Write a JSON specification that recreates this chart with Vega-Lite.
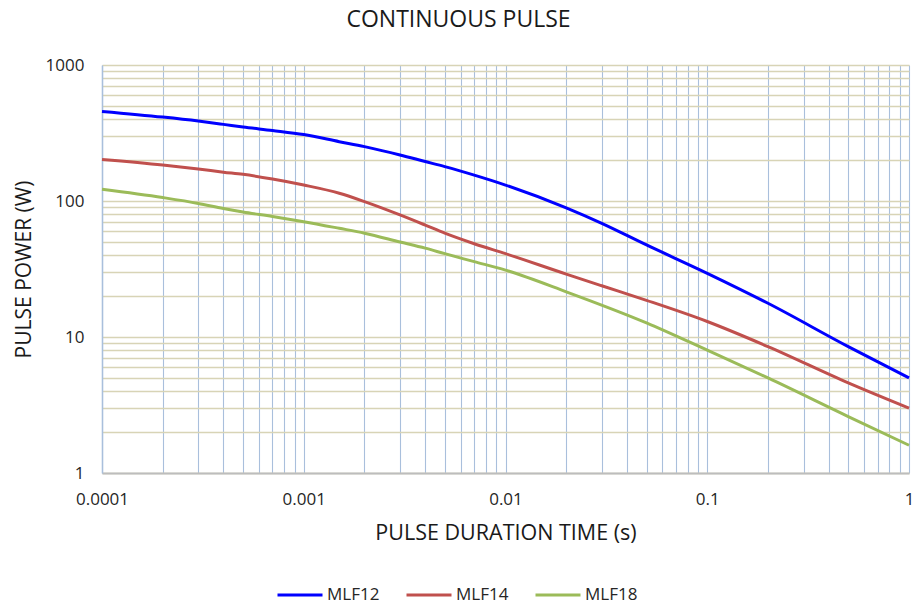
{
  "$schema": "https://vega.github.io/schema/vega-lite/v6.json",
  "width": 807,
  "height": 408,
  "autosize": {"type": "none"},
  "padding": {"left": 102, "top": 65, "right": 8, "bottom": 132},
  "background": "white",
  "title": {"text": "CONTINUOUS PULSE", "font": "Open Sans", "fontSize": 23, "fontWeight": "normal", "color": "#1a1a1a", "anchor": "middle", "dx": -47, "offset": 24},
  "config": {"view": {"stroke": null}},
  "data": {"values": [
    {"t": 0.0001, "p": 456, "series": "MLF12"},
    {"t": 0.0002, "p": 414, "series": "MLF12"},
    {"t": 0.0003, "p": 387, "series": "MLF12"},
    {"t": 0.0004, "p": 366, "series": "MLF12"},
    {"t": 0.0005, "p": 350, "series": "MLF12"},
    {"t": 0.0007, "p": 330, "series": "MLF12"},
    {"t": 0.001, "p": 308, "series": "MLF12"},
    {"t": 0.0015, "p": 273, "series": "MLF12"},
    {"t": 0.002, "p": 251, "series": "MLF12"},
    {"t": 0.003, "p": 218, "series": "MLF12"},
    {"t": 0.004, "p": 195, "series": "MLF12"},
    {"t": 0.005, "p": 179, "series": "MLF12"},
    {"t": 0.007, "p": 155, "series": "MLF12"},
    {"t": 0.01, "p": 131, "series": "MLF12"},
    {"t": 0.02, "p": 89, "series": "MLF12"},
    {"t": 0.03, "p": 68.5, "series": "MLF12"},
    {"t": 0.05, "p": 47.5, "series": "MLF12"},
    {"t": 0.1, "p": 29.4, "series": "MLF12"},
    {"t": 0.2, "p": 17.7, "series": "MLF12"},
    {"t": 0.5, "p": 8.5, "series": "MLF12"},
    {"t": 1, "p": 5.0, "series": "MLF12"},
    {"t": 0.0001, "p": 202, "series": "MLF14"},
    {"t": 0.0002, "p": 184, "series": "MLF14"},
    {"t": 0.0003, "p": 172, "series": "MLF14"},
    {"t": 0.0004, "p": 163, "series": "MLF14"},
    {"t": 0.0005, "p": 157, "series": "MLF14"},
    {"t": 0.0007, "p": 145, "series": "MLF14"},
    {"t": 0.001, "p": 131, "series": "MLF14"},
    {"t": 0.0015, "p": 114, "series": "MLF14"},
    {"t": 0.002, "p": 99, "series": "MLF14"},
    {"t": 0.003, "p": 79, "series": "MLF14"},
    {"t": 0.004, "p": 66.5, "series": "MLF14"},
    {"t": 0.005, "p": 58, "series": "MLF14"},
    {"t": 0.007, "p": 48.5, "series": "MLF14"},
    {"t": 0.01, "p": 41, "series": "MLF14"},
    {"t": 0.02, "p": 29, "series": "MLF14"},
    {"t": 0.03, "p": 23.8, "series": "MLF14"},
    {"t": 0.05, "p": 18.6, "series": "MLF14"},
    {"t": 0.1, "p": 13, "series": "MLF14"},
    {"t": 0.2, "p": 8.5, "series": "MLF14"},
    {"t": 0.5, "p": 4.6, "series": "MLF14"},
    {"t": 1, "p": 3.0, "series": "MLF14"},
    {"t": 0.0001, "p": 122, "series": "MLF18"},
    {"t": 0.0002, "p": 106, "series": "MLF18"},
    {"t": 0.0003, "p": 96, "series": "MLF18"},
    {"t": 0.0004, "p": 88, "series": "MLF18"},
    {"t": 0.0005, "p": 83, "series": "MLF18"},
    {"t": 0.0007, "p": 77, "series": "MLF18"},
    {"t": 0.001, "p": 70.5, "series": "MLF18"},
    {"t": 0.0015, "p": 63, "series": "MLF18"},
    {"t": 0.002, "p": 58, "series": "MLF18"},
    {"t": 0.003, "p": 50, "series": "MLF18"},
    {"t": 0.004, "p": 45, "series": "MLF18"},
    {"t": 0.005, "p": 41, "series": "MLF18"},
    {"t": 0.007, "p": 35.8, "series": "MLF18"},
    {"t": 0.01, "p": 31, "series": "MLF18"},
    {"t": 0.02, "p": 21.5, "series": "MLF18"},
    {"t": 0.05, "p": 12.7, "series": "MLF18"},
    {"t": 0.1, "p": 8.0, "series": "MLF18"},
    {"t": 0.2, "p": 5.0, "series": "MLF18"},
    {"t": 0.5, "p": 2.6, "series": "MLF18"},
    {"t": 1, "p": 1.6, "series": "MLF18"}
  ]},
  "mark": {"type": "line", "interpolate": "monotone", "strokeWidth": 3},
  "encoding": {
    "x": {
      "field": "t", "type": "quantitative",
      "scale": {"type": "log", "domain": [0.0001, 1]},
      "axis": {
        "title": "PULSE DURATION TIME (s)",
        "values": [0.0001,0.0002,0.0003,0.0004,0.0005,0.0006,0.0007,0.0008,0.0009,0.001,0.002,0.003,0.004,0.005,0.006,0.007,0.008,0.009,0.01,0.02,0.03,0.04,0.05,0.06,0.07,0.08,0.09,0.1,0.2,0.3,0.4,0.5,0.6,0.7,0.8,0.9,1],
        "format": "~g",
        "labelExpr": "indexof([0.0001,0.001,0.01,0.1,1], datum.value) >= 0 ? datum.label : ''",
        "labelOverlap": false,
        "labelBound": false,
        "labelFlush": false,
        "labelFont": "Open Sans", "labelFontSize": 17, "labelColor": "#262626", "labelPadding": 18,
        "titleFont": "Open Sans", "titleFontSize": 21.5, "titleFontWeight": "normal", "titleColor": "#1a1a1a", "titlePadding": 15,
        "ticks": false,
        "grid": true, "gridColor": "#a9bfdc", "gridWidth": 1.1,
        "domainColor": "#bdbdbd", "domainWidth": 2
      }
    },
    "y": {
      "field": "p", "type": "quantitative",
      "scale": {"type": "log", "domain": [1, 1000]},
      "axis": {
        "title": "PULSE POWER (W)",
        "values": [1,2,3,4,5,6,7,8,9,10,20,30,40,50,60,70,80,90,100,200,300,400,500,600,700,800,900,1000],
        "format": "~g",
        "labelExpr": "indexof([1,10,100,1000], datum.value) >= 0 ? datum.label : ''",
        "labelOverlap": false,
        "labelBound": false,
        "labelFlush": false,
        "labelFont": "Open Sans", "labelFontSize": 17, "labelColor": "#262626", "labelPadding": 18,
        "titleFont": "Open Sans", "titleFontSize": 21, "titleFontWeight": "normal", "titleColor": "#1a1a1a", "titlePadding": 11,
        "ticks": false,
        "grid": true, "gridColor": "#d8d4b6", "gridWidth": 1.6,
        "domainColor": "#a9bfdc", "domainWidth": 1.5
      }
    },
    "color": {
      "field": "series", "type": "nominal",
      "scale": {"domain": ["MLF12", "MLF14", "MLF18"], "range": ["#0000ff", "#c0504d", "#9bbb59"]},
      "legend": {
        "title": null,
        "orient": "none",
        "direction": "horizontal",
        "legendX": 174,
        "legendY": 521,
        "symbolType": "M-1,0H5",
        "symbolSize": 225,
        "symbolStrokeWidth": 3,
        "labelFont": "Open Sans", "labelFontSize": 17, "labelColor": "#262626",
        "labelOffset": 33,
        "columnPadding": 20
      }
    }
  }
}
